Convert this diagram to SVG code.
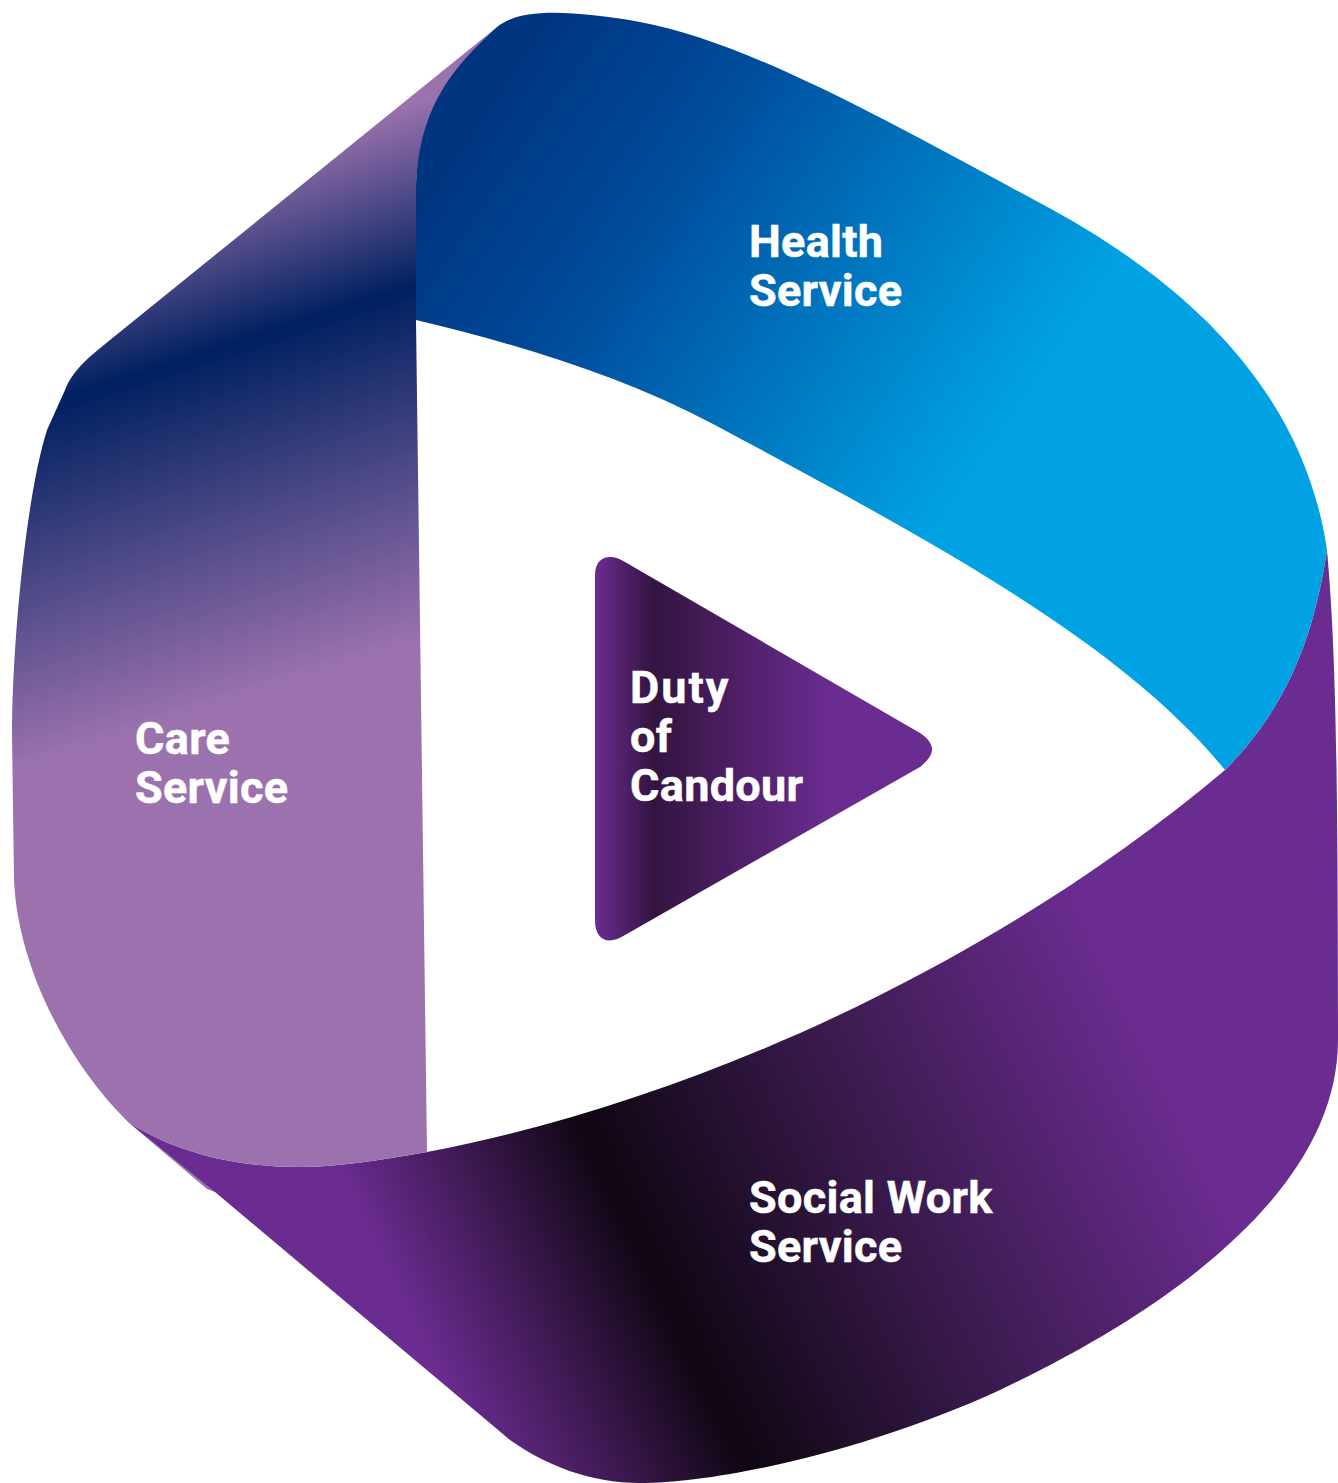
<svg xmlns="http://www.w3.org/2000/svg" width="1338" height="1483" viewBox="0 0 1338 1483">
<style>
text{font-family:Roboto,"Noto Sans","Liberation Sans",sans-serif;font-weight:700;font-size:45px;fill:#fff;stroke:#fff;stroke-width:.5px;letter-spacing:.3px}
.w{letter-spacing:2px}
</style>
<defs>
<linearGradient id="gc" gradientUnits="userSpaceOnUse" x1="68" y1="213" x2="226" y2="704">
<stop offset="0" stop-color="#9b72ae"/><stop offset=".34" stop-color="#002060"/><stop offset="1" stop-color="#9b72ae"/>
</linearGradient>
<linearGradient id="gh" gradientUnits="userSpaceOnUse" x1="480" y1="110" x2="990" y2="455">
<stop offset="0" stop-color="#00357f"/><stop offset=".3" stop-color="#004a9a"/><stop offset="1" stop-color="#00a2e4"/>
</linearGradient>
<linearGradient id="gs" gradientUnits="userSpaceOnUse" x1="-180" y1="86" x2="531" y2="-254">
<stop offset="0" stop-color="#6b2c91"/><stop offset=".304" stop-color="#0f0612"/><stop offset=".62" stop-color="#391a4c"/><stop offset="1" stop-color="#6b2c91"/>
</linearGradient>
<linearGradient id="gt" gradientUnits="userSpaceOnUse" x1="595" y1="0" x2="830" y2="0">
<stop offset="0" stop-color="#6b2c91"/><stop offset=".25" stop-color="#331440"/><stop offset="1" stop-color="#6b2c91"/>
</linearGradient>
</defs>
<g id="social-work-service">
<path fill="#9b72ae" d="M128 1122L207 1189L218 1193Z"/>
<path fill="url(#gs)" d="M128 1122C180 1155 240 1167 300 1167C340 1167 380 1160 427 1152C700 1100 1000 960 1225 770C1290 705 1315 630 1327 550C1335 640 1338 740 1338 1040C1338 1180 1190 1300 1000 1390C870 1450 720 1483 640 1483C590 1483 545 1465 510 1440L215 1192Z"/>
<text x="749" y="1213">Social Work<tspan x="749" y="1262">Service</tspan></text>
</g>
<g id="care-service">
<path fill="url(#gc)" d="M497 27L110 340C85 360 72 372 65 390L47 430C25 500 12 650 12 735L14 880C18 970 70 1065 128 1122C180 1155 240 1167 300 1167C340 1167 380 1160 427 1152L416 320L416 190C418 110 465 55 497 27Z"/>
<text x="135" y="754">Care<tspan x="135" y="803">Service</tspan></text>
</g>
<g id="health-service">
<path fill="url(#gh)" d="M416 320L416 190C418 110 450 70 497 27C520 8 570 10 640 22C750 42 900 128 1040 203C1200 288 1305 400 1327 550C1315 630 1290 705 1225 770C1120 640 920 535 715 425C620 375 520 345 416 320Z"/>
<text x="749" y="257">Health<tspan x="749" y="306">Service</tspan></text>
</g>
<g id="duty-of-candour">
<path fill="url(#gt)" d="M595 575C595 555 612 553 625 562L920 733C936 744 936 754 920 767L625 935C610 945 595 942 595 920Z"/>
<text x="630" y="703"><tspan class="w">Duty</tspan><tspan x="630" y="752">of</tspan><tspan x="630" y="801">Candour</tspan></text>
</g>
</svg>
